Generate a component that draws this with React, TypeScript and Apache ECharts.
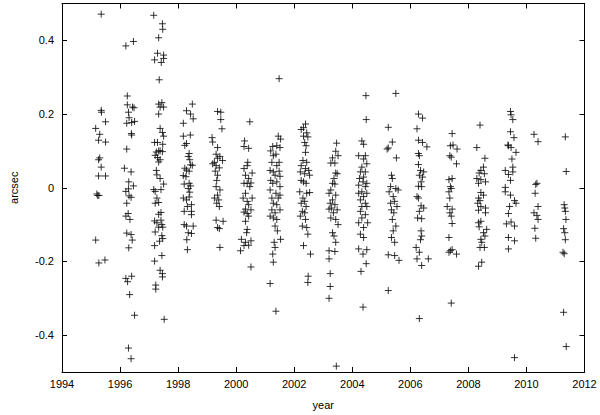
import React, { useEffect, useRef } from "react";
import * as echarts from "echarts";

// [year, arcsec] readings per observing season
const obs1995 = [[1995.35,0.471],[1995.35,0.21],[1995.36,0.205],[1995.5,0.179],[1995.16,0.161],[1995.3,0.145],[1995.26,0.129],[1995.5,0.124],[1995.3,0.081],[1995.26,0.076],[1995.35,0.056],[1995.26,0.032],[1995.5,0.032],[1995.2,-0.017],[1995.23,-0.021],[1995.27,-0.021],[1995.16,-0.142],[1995.27,-0.204],[1995.48,-0.196]];
const obs1996 = [[1996.2,0.385],[1996.46,0.397],[1996.25,0.249],[1996.25,0.225],[1996.43,0.219],[1996.48,0.217],[1996.29,0.205],[1996.31,0.19],[1996.23,0.175],[1996.4,0.177],[1996.5,0.18],[1996.39,0.147],[1996.4,0.143],[1996.23,0.105],[1996.15,0.053],[1996.38,0.043],[1996.3,0.016],[1996.46,0.005],[1996.2,-0.01],[1996.29,-0.003],[1996.38,-0.026],[1996.31,-0.022],[1996.23,-0.042],[1996.2,-0.077],[1996.28,-0.07],[1996.34,-0.086],[1996.23,-0.123],[1996.38,-0.127],[1996.42,-0.142],[1996.3,-0.163],[1996.2,-0.246],[1996.4,-0.24],[1996.26,-0.255],[1996.33,-0.29],[1996.5,-0.346],[1996.29,-0.435],[1996.38,-0.464]];
const obs1997 = [[1997.16,0.468],[1997.46,0.445],[1997.47,0.43],[1997.33,0.407],[1997.29,0.365],[1997.5,0.36],[1997.5,0.351],[1997.19,0.347],[1997.42,0.34],[1997.35,0.293],[1997.44,0.231],[1997.33,0.227],[1997.38,0.219],[1997.5,0.219],[1997.33,0.2],[1997.38,0.161],[1997.46,0.15],[1997.5,0.14],[1997.19,0.123],[1997.29,0.123],[1997.47,0.118],[1997.33,0.1],[1997.25,0.097],[1997.38,0.1],[1997.46,0.098],[1997.21,0.088],[1997.29,0.082],[1997.38,0.076],[1997.33,0.07],[1997.25,0.047],[1997.27,0.035],[1997.38,0.025],[1997.5,0.01],[1997.16,-0.005],[1997.21,-0.01],[1997.41,-0.005],[1997.27,-0.028],[1997.21,-0.042],[1997.33,-0.04],[1997.41,-0.067],[1997.33,-0.072],[1997.19,-0.09],[1997.27,-0.095],[1997.41,-0.088],[1997.44,-0.1],[1997.33,-0.107],[1997.47,-0.107],[1997.21,-0.12],[1997.44,-0.13],[1997.47,-0.138],[1997.36,-0.145],[1997.19,-0.157],[1997.44,-0.184],[1997.19,-0.199],[1997.38,-0.224],[1997.46,-0.233],[1997.46,-0.242],[1997.23,-0.264],[1997.23,-0.275],[1997.52,-0.357]];
const obs1998 = [[1998.49,0.227],[1998.29,0.209],[1998.43,0.2],[1998.18,0.175],[1998.52,0.187],[1998.18,0.14],[1998.42,0.143],[1998.29,0.12],[1998.23,0.115],[1998.38,0.093],[1998.35,0.085],[1998.4,0.076],[1998.43,0.062],[1998.49,0.061],[1998.23,0.053],[1998.29,0.048],[1998.38,0.045],[1998.18,0.033],[1998.27,0.03],[1998.21,0.01],[1998.38,0.012],[1998.43,0.005],[1998.35,-0.002],[1998.4,-0.012],[1998.18,-0.028],[1998.29,-0.033],[1998.38,-0.025],[1998.32,-0.051],[1998.46,-0.046],[1998.21,-0.064],[1998.46,-0.064],[1998.46,-0.073],[1998.21,-0.1],[1998.29,-0.104],[1998.52,-0.104],[1998.35,-0.122],[1998.46,-0.124],[1998.3,-0.141],[1998.32,-0.168]];
const obs1999 = [[1999.36,0.207],[1999.47,0.205],[1999.47,0.185],[1999.51,0.16],[1999.17,0.136],[1999.19,0.124],[1999.36,0.109],[1999.31,0.091],[1999.44,0.085],[1999.53,0.074],[1999.36,0.08],[1999.25,0.069],[1999.19,0.065],[1999.31,0.06],[1999.42,0.054],[1999.28,0.045],[1999.36,0.034],[1999.33,0.02],[1999.31,0.003],[1999.44,-0.006],[1999.36,-0.02],[1999.25,-0.028],[1999.4,-0.033],[1999.33,-0.042],[1999.42,-0.051],[1999.31,-0.088],[1999.55,-0.091],[1999.36,-0.108],[1999.42,-0.111],[1999.44,-0.162]];
const obs2000 = [[2000.47,0.179],[2000.29,0.127],[2000.27,0.112],[2000.43,0.107],[2000.4,0.069],[2000.38,0.06],[2000.27,0.052],[2000.55,0.04],[2000.32,0.034],[2000.43,0.025],[2000.27,0.012],[2000.38,0.012],[2000.51,0.013],[2000.47,0.003],[2000.32,-0.015],[2000.24,-0.028],[2000.55,-0.028],[2000.38,-0.037],[2000.43,-0.046],[2000.32,-0.058],[2000.51,-0.06],[2000.27,-0.066],[2000.38,-0.07],[2000.43,-0.077],[2000.32,-0.091],[2000.38,-0.113],[2000.36,-0.122],[2000.18,-0.14],[2000.32,-0.148],[2000.51,-0.144],[2000.43,-0.156],[2000.27,-0.157],[2000.15,-0.171],[2000.51,-0.215]];
const obs2001 = [[2001.48,0.296],[2001.45,0.14],[2001.53,0.132],[2001.26,0.112],[2001.4,0.114],[2001.51,0.109],[2001.19,0.1],[2001.28,0.087],[2001.37,0.091],[2001.23,0.069],[2001.48,0.069],[2001.4,0.06],[2001.17,0.047],[2001.28,0.043],[2001.48,0.045],[2001.34,0.034],[2001.51,0.031],[2001.19,0.02],[2001.26,0.012],[2001.4,0.016],[2001.51,0.003],[2001.17,-0.006],[2001.37,-0.015],[2001.51,-0.02],[2001.23,-0.028],[2001.45,-0.028],[2001.28,-0.042],[2001.4,-0.046],[2001.23,-0.06],[2001.51,-0.06],[2001.34,-0.068],[2001.17,-0.077],[2001.28,-0.082],[2001.4,-0.086],[2001.34,-0.104],[2001.42,-0.117],[2001.53,-0.14],[2001.31,-0.148],[2001.34,-0.162],[2001.26,-0.18],[2001.28,-0.202],[2001.17,-0.26],[2001.37,-0.335]];
const obs2002 = [[2002.39,0.173],[2002.32,0.163],[2002.24,0.158],[2002.43,0.149],[2002.32,0.14],[2002.47,0.138],[2002.36,0.123],[2002.41,0.114],[2002.39,0.096],[2002.3,0.074],[2002.43,0.069],[2002.24,0.06],[2002.39,0.052],[2002.5,0.047],[2002.21,0.043],[2002.36,0.038],[2002.53,0.034],[2002.24,0.02],[2002.32,0.016],[2002.41,0.012],[2002.19,-0.011],[2002.43,-0.015],[2002.53,-0.013],[2002.3,-0.028],[2002.36,-0.037],[2002.24,-0.042],[2002.41,-0.051],[2002.28,-0.064],[2002.36,-0.068],[2002.21,-0.077],[2002.39,-0.086],[2002.28,-0.104],[2002.43,-0.108],[2002.47,-0.126],[2002.32,-0.157],[2002.56,-0.18],[2002.48,-0.24],[2002.47,-0.257]];
const obs2003 = [[2003.46,0.121],[2003.43,0.099],[2003.51,0.087],[2003.32,0.081],[2003.26,0.067],[2003.4,0.067],[2003.43,0.04],[2003.48,0.038],[2003.37,0.025],[2003.32,0.012],[2003.4,0.01],[2003.26,-0.006],[2003.2,-0.015],[2003.43,-0.02],[2003.32,-0.033],[2003.24,-0.042],[2003.4,-0.046],[2003.28,-0.055],[2003.48,-0.06],[2003.2,-0.058],[2003.35,-0.068],[2003.26,-0.082],[2003.43,-0.086],[2003.51,-0.1],[2003.32,-0.122],[2003.37,-0.131],[2003.43,-0.148],[2003.2,-0.171],[2003.4,-0.173],[2003.2,-0.193],[2003.24,-0.233],[2003.24,-0.268],[2003.2,-0.3],[2003.45,-0.484]];
const obs2004 = [[2004.47,0.25],[2004.48,0.185],[2004.33,0.127],[2004.39,0.118],[2004.22,0.087],[2004.45,0.087],[2004.39,0.078],[2004.5,0.065],[2004.33,0.056],[2004.28,0.043],[2004.45,0.043],[2004.39,0.029],[2004.25,0.025],[2004.37,0.016],[2004.5,0.012],[2004.22,0.007],[2004.45,0.003],[2004.33,-0.011],[2004.22,-0.015],[2004.5,-0.015],[2004.39,-0.024],[2004.28,-0.033],[2004.45,-0.042],[2004.33,-0.051],[2004.5,-0.051],[2004.28,-0.064],[2004.45,-0.073],[2004.33,-0.082],[2004.22,-0.095],[2004.53,-0.095],[2004.39,-0.108],[2004.28,-0.126],[2004.39,-0.135],[2004.22,-0.166],[2004.5,-0.168],[2004.37,-0.18],[2004.48,-0.206],[2004.3,-0.227],[2004.37,-0.324]];
const obs2005 = [[2005.5,0.256],[2005.24,0.164],[2005.38,0.124],[2005.2,0.105],[2005.24,0.108],[2005.52,0.081],[2005.35,0.034],[2005.38,0.025],[2005.32,0.003],[2005.5,-0.002],[2005.27,-0.011],[2005.58,-0.006],[2005.41,-0.024],[2005.32,-0.042],[2005.46,-0.037],[2005.54,-0.051],[2005.35,-0.06],[2005.43,-0.068],[2005.38,-0.086],[2005.5,-0.104],[2005.41,-0.117],[2005.35,-0.135],[2005.46,-0.148],[2005.24,-0.182],[2005.46,-0.184],[2005.61,-0.197],[2005.24,-0.279]];
const obs2006 = [[2006.28,0.2],[2006.42,0.189],[2006.23,0.16],[2006.28,0.129],[2006.42,0.123],[2006.57,0.111],[2006.28,0.093],[2006.31,0.087],[2006.28,0.063],[2006.35,0.047],[2006.46,0.043],[2006.31,0.034],[2006.42,0.029],[2006.37,0.016],[2006.28,0.004],[2006.39,0.003],[2006.23,-0.024],[2006.28,-0.028],[2006.37,-0.049],[2006.46,-0.055],[2006.31,-0.064],[2006.25,-0.082],[2006.39,-0.084],[2006.37,-0.117],[2006.39,-0.131],[2006.35,-0.141],[2006.2,-0.162],[2006.31,-0.175],[2006.23,-0.193],[2006.62,-0.193],[2006.39,-0.211],[2006.31,-0.355]];
const obs2007 = [[2007.44,0.147],[2007.38,0.114],[2007.47,0.116],[2007.61,0.105],[2007.36,0.087],[2007.41,0.083],[2007.59,0.065],[2007.33,0.022],[2007.44,0.025],[2007.38,0.003],[2007.41,-0.002],[2007.33,-0.011],[2007.36,-0.028],[2007.27,-0.051],[2007.44,-0.058],[2007.36,-0.068],[2007.41,-0.077],[2007.44,-0.097],[2007.33,-0.135],[2007.38,-0.171],[2007.33,-0.175],[2007.44,-0.168],[2007.59,-0.18],[2007.41,-0.313]];
const obs2008 = [[2008.4,0.17],[2008.29,0.109],[2008.57,0.08],[2008.52,0.056],[2008.43,0.047],[2008.37,0.04],[2008.55,0.038],[2008.29,0.025],[2008.43,0.022],[2008.59,0.016],[2008.35,0.012],[2008.43,-0.013],[2008.52,-0.02],[2008.35,-0.028],[2008.4,-0.035],[2008.32,-0.042],[2008.43,-0.051],[2008.59,-0.055],[2008.35,-0.061],[2008.59,-0.068],[2008.43,-0.091],[2008.35,-0.095],[2008.37,-0.106],[2008.63,-0.113],[2008.52,-0.122],[2008.57,-0.131],[2008.43,-0.14],[2008.46,-0.148],[2008.4,-0.162],[2008.55,-0.162],[2008.46,-0.202],[2008.35,-0.213]];
const obs2009 = [[2009.45,0.207],[2009.47,0.198],[2009.53,0.185],[2009.45,0.152],[2009.57,0.136],[2009.36,0.116],[2009.47,0.109],[2009.38,0.114],[2009.64,0.096],[2009.5,0.078],[2009.53,0.056],[2009.53,0.043],[2009.45,0.02],[2009.27,0.047],[2009.38,0.036],[2009.27,0.001],[2009.27,-0.011],[2009.45,-0.02],[2009.59,-0.035],[2009.64,-0.042],[2009.42,-0.051],[2009.38,-0.07],[2009.31,-0.098],[2009.47,-0.093],[2009.59,-0.104],[2009.38,-0.135],[2009.59,-0.144],[2009.38,-0.166],[2009.59,-0.461]];
const obs2010 = [[2010.26,0.145],[2010.4,0.125],[2010.32,0.009],[2010.36,0.012],[2010.3,-0.015],[2010.4,-0.051],[2010.26,-0.068],[2010.36,-0.075],[2010.4,-0.086],[2010.29,-0.11],[2010.32,-0.137]];
const obs2011 = [[2011.34,0.138],[2011.37,0.044],[2011.3,-0.046],[2011.32,-0.055],[2011.34,-0.064],[2011.36,-0.086],[2011.28,-0.111],[2011.32,-0.122],[2011.34,-0.141],[2011.26,-0.175],[2011.3,-0.179],[2011.28,-0.338],[2011.37,-0.431]];

const yTickValues = [-0.4, -0.2, 0, 0.2, 0.4];
const xMin = 1994;
const xMax = 2012;
const xStep = 2;

const allObs = [
  obs1995, obs1996, obs1997, obs1998, obs1999, obs2000, obs2001, obs2002, obs2003,
  obs2004, obs2005, obs2006, obs2007, obs2008, obs2009, obs2010, obs2011,
].flat();

const FONT = "Liberation Sans";

export default function App() {
  const ref = useRef<HTMLDivElement>(null);
  useEffect(() => {
    if (!ref.current) return;
    const chart = echarts.init(ref.current, null, { renderer: "svg" });
    const lineStyle = { color: "#000", width: 1 };
    const tick = { show: true, inside: true, length: 5, lineStyle };
    const xBase = {
      type: "value",
      min: xMin,
      max: xMax,
      interval: xStep,
      axisLine: { show: true, onZero: false, lineStyle },
      axisTick: tick,
      splitLine: { show: false },
    };
    const yBase = {
      type: "value",
      min: -0.5,
      max: 0.5,
      axisLine: { show: true, onZero: false, lineStyle },
      axisTick: { ...tick, customValues: yTickValues },
      splitLine: { show: false },
    };
    chart.setOption({
      animation: false,
      backgroundColor: "#fff",
      grid: { left: 53.5, right: 15.5, top: 3.5, bottom: 36.5 },
      xAxis: [
        {
          ...xBase,
          position: "bottom",
          name: "year",
          nameLocation: "middle",
          nameGap: 27,
          nameTextStyle: { color: "#000", fontSize: 11, fontFamily: FONT },
          axisLabel: {
            color: "#000",
            fontSize: 11,
            fontFamily: FONT,
            margin: 6,
            formatter: (v: number) => String(v),
          },
        },
        { ...xBase, position: "top", axisLabel: { show: false } },
      ],
      yAxis: [
        {
          ...yBase,
          position: "left",
          name: "arcsec",
          nameLocation: "middle",
          nameGap: 43,
          nameRotate: 90,
          nameTextStyle: { color: "#000", fontSize: 11, fontFamily: FONT },
          axisLabel: {
            color: "#000",
            fontSize: 11,
            fontFamily: FONT,
            margin: 8,
            customValues: yTickValues,
            formatter: (v: number) => String(Math.round(v * 10) / 10),
          },
        },
        { ...yBase, position: "right", axisLabel: { show: false } },
      ],
      series: [
        {
          type: "scatter",
          xAxisIndex: 0,
          yAxisIndex: 0,
          data: allObs,
          symbol: "path://M0,3.5L7,3.5M3.5,0L3.5,7",
          symbolSize: 7,
          itemStyle: { color: "rgba(0,0,0,0)", borderColor: "#111", borderWidth: 1, opacity: 0.85 },
          emphasis: { disabled: true },
        },
      ],
    });
    return () => chart.dispose();
  }, []);
  return (
    <div
      ref={ref}
      style={{ position: "fixed", left: 0, top: 0, width: 600, height: 415, background: "#fff" }}
    />
  );
}
